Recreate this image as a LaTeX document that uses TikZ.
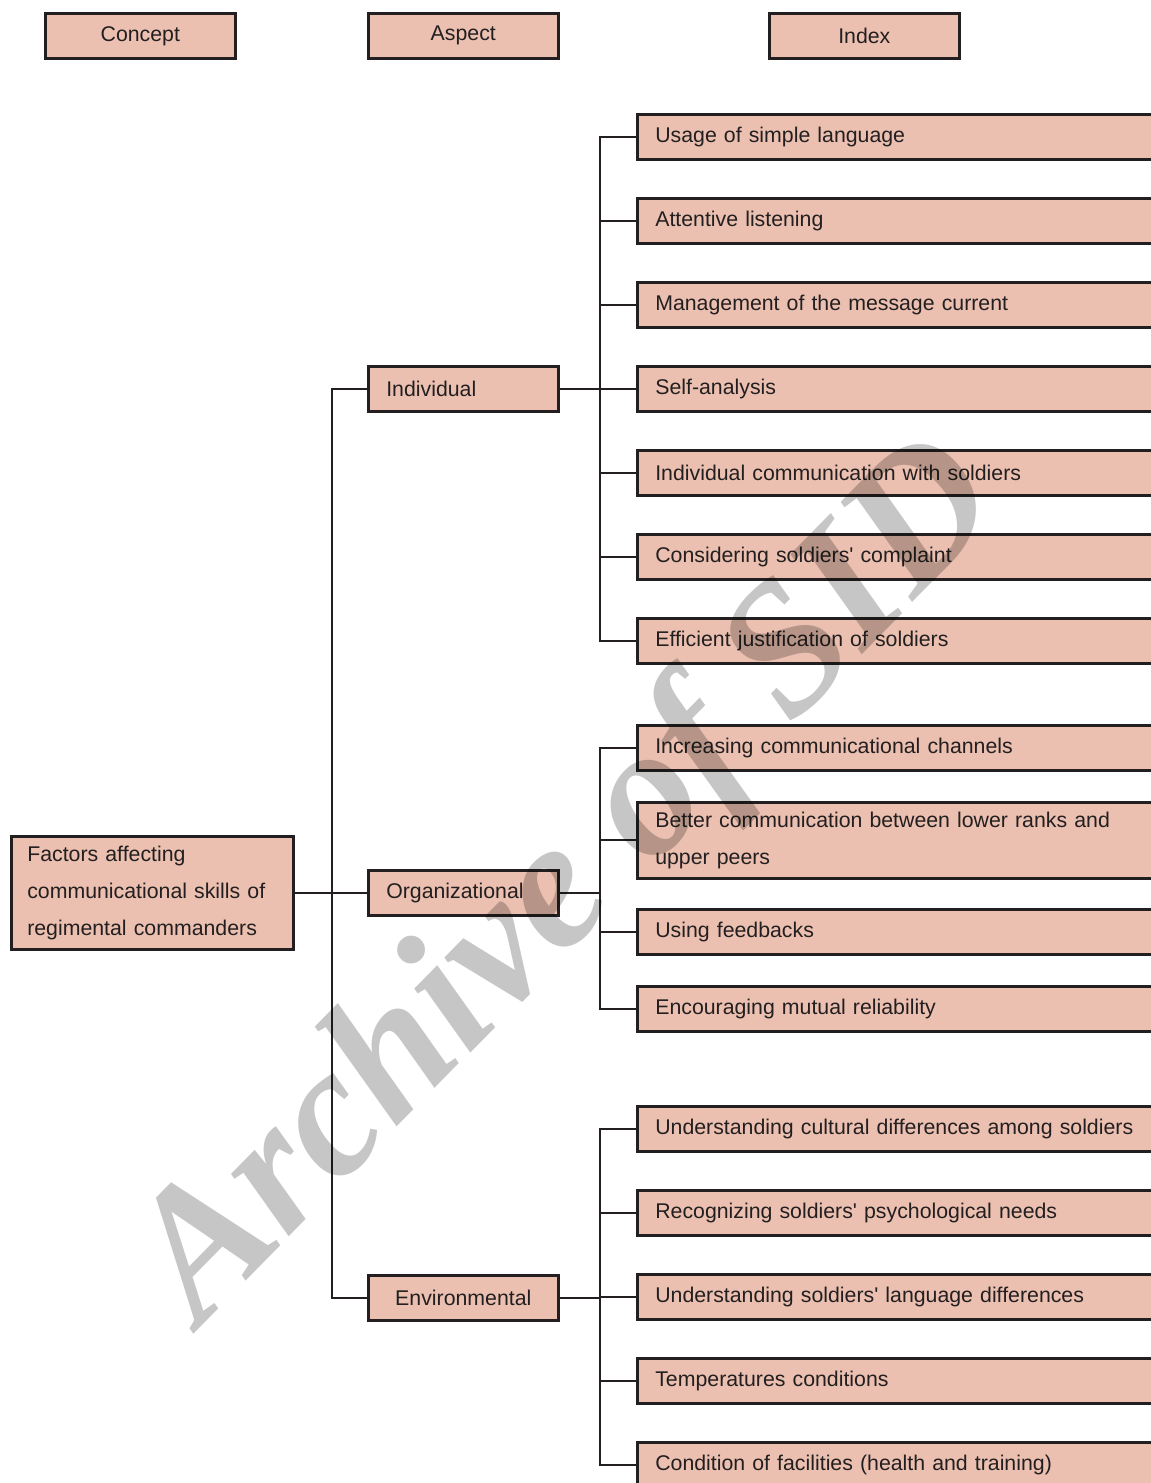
\documentclass[tikz,border=0pt]{standalone}
\usepackage{fontspec}
\setmainfont{Liberation Sans}
\newfontfamily\wmfont{Liberation Serif}
\usepackage{tikz}

\definecolor{boxfill}{RGB}{235,192,176}
\definecolor{boxline}{RGB}{35,31,32}
\definecolor{wmgray}{RGB}{198,198,198}

\begin{document}
\begin{tikzpicture}[x=1pt,y=1pt,yscale=-1,xscale=1,
  box/.style={draw=boxline, line width=2.6pt, fill=boxfill, anchor=north west, minimum height=45, text=boxline, font=\fontsize{21.3}{37}\selectfont},
  head/.style={box, minimum width=190, align=center},
  aspect/.style={box, text width=154, inner xsep=18, align=left},
  idx/.style={box, text width=488, inner xsep=18, align=left},
  link/.style={draw=boxline, line width=1.8pt},
  wmark/.style={text=wmgray, font=\wmfont\bfseries\itshape\fontsize{185}{185}\selectfont}]
\useasboundingbox (0,0) rectangle (1151,1483);
\clip (0,0) rectangle (1151,1483);

%Shape: Rectangle [headers]
\node[head] (hconcept) at (44,12) {Concept};
\node[head] (haspect) at (367,12) {Aspect};
\node[head] (hindex) at (768,12) {Index};

%Shape: Rectangle [concept]
\node[box, text width=250, inner xsep=16, minimum height=113, align=left] (concept) at (10,835) {Factors affecting\\communicational skills of\\regimental commanders};

%Shape: Rectangle [aspects]
\node[aspect] (ind) at (367,365) {Individual};
\node[aspect] (org) at (367,869) {Organizational};
\node[aspect, align=center] (env) at (367,1274) {Environmental};

%Shape: Rectangle [index - individual]
\node[idx] (i1) at (636,113) {Usage of simple language};
\node[idx] (i2) at (636,197) {Attentive listening};
\node[idx] (i3) at (636,281) {Management of the message current};
\node[idx] (i4) at (636,365) {Self-analysis};
\node[idx] (i5) at (636,449) {Individual communication with soldiers};
\node[idx] (i6) at (636,533) {Considering soldiers\textquotesingle{} complaint};
\node[idx] (i7) at (636,617) {Efficient justification of soldiers};

%Shape: Rectangle [index - organizational]
\node[idx] (o1) at (636,724) {Increasing communicational channels};
\node[idx, minimum height=76] (o2) at (636,801) {Better communication between lower ranks and\\upper peers};
\node[idx] (o3) at (636,908) {Using feedbacks};
\node[idx] (o4) at (636,985) {Encouraging mutual reliability};

%Shape: Rectangle [index - environmental]
\node[idx] (e1) at (636,1105) {Understanding cultural differences among soldiers};
\node[idx] (e2) at (636,1189) {Recognizing soldiers\textquotesingle{} psychological needs};
\node[idx] (e3) at (636,1273) {Understanding soldiers\textquotesingle{} language differences};
\node[idx] (e4) at (636,1357) {Temperatures conditions};
\node[idx] (e5) at (636,1441) {Condition of facilities (health and training)};

%Straight Lines [concept to aspects]
\draw[link] (concept.east) -- (org.west);
\draw[link] (ind.west) -- ++(-35,0) |- (env.west);

%Straight Lines [aspects to index]
\draw[link] (ind.east) -- ++(40,0);
\foreach \n in {i1,i2,i3,i4,i5,i6,i7}
  \draw[link] (ind.east) ++(40,0) |- (\n.west);
\draw[link] (org.east) -- ++(40,0);
\foreach \n in {o1,o2,o3,o4}
  \draw[link] (org.east) ++(40,0) |- (\n.west);
\draw[link] (env.east) -- ++(40,0);
\foreach \n in {e1,e2,e3,e4,e5}
  \draw[link] (env.east) ++(40,0) |- (\n.west);

%Text [watermark]
\begin{scope}[blend mode=multiply]
\node[wmark, rotate=45.5, anchor=base west] (wm) at (198,1330) {Archive of SID};
\end{scope}
\end{tikzpicture}
\end{document}
